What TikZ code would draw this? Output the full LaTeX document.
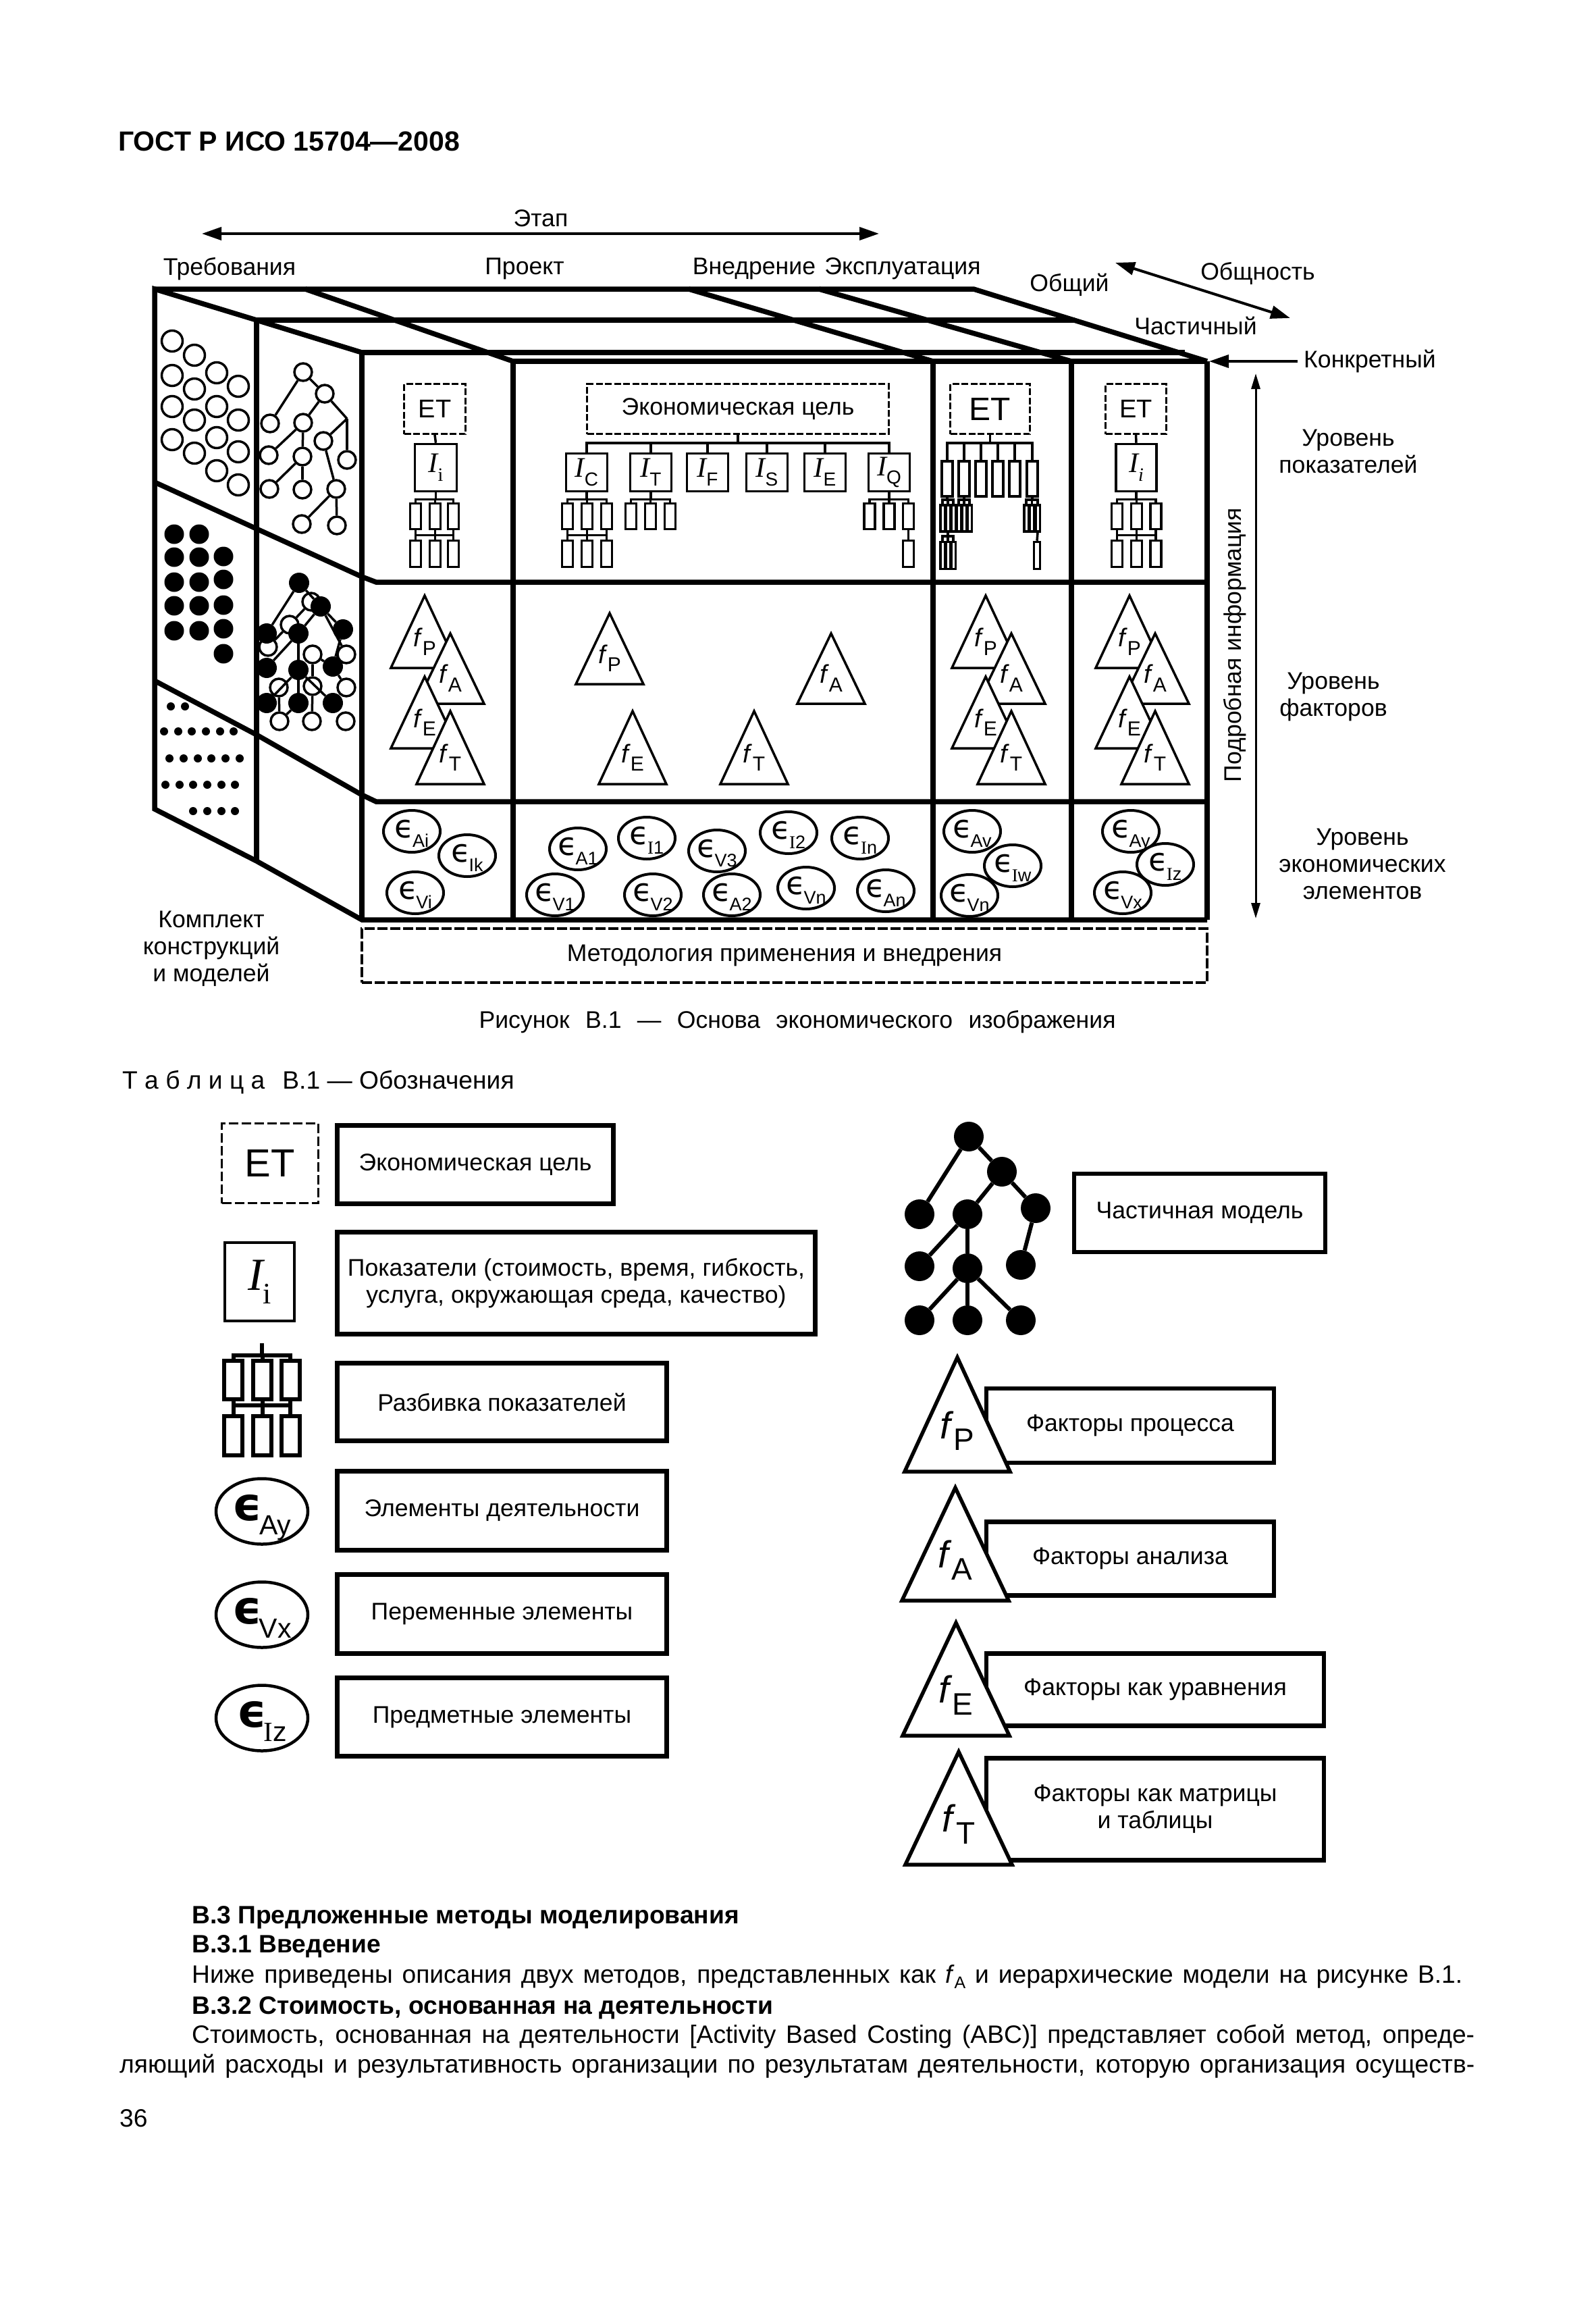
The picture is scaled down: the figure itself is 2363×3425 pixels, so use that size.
\documentclass[tikz,border=0pt]{standalone}
\usepackage{fontspec}
\setmainfont{Liberation Sans}
\newfontfamily\serifnt{Liberation Serif}
\newfontfamily\epsfnt{DejaVu Sans}
\usetikzlibrary{shapes.geometric, arrows.meta, calc}

\newcommand{\serI}{{\serifnt I}}
\newcommand{\elemtxt}[1]{\smash{\makebox[0pt]{\raisebox{-.2em}{\epsfnt\epsw ϵ}\kern-.06em\raisebox{-.5em}{\fontsize{\subsz}{\subsz}\selectfont #1}}}}
\newcommand{\indtxt}[1]{{\serifnt\itshape I}\raisebox{-.3em}{\fontsize{\subsz}{\subsz}\selectfont #1}}
\newcommand{\facttxt}[1]{\smash{\makebox[0pt]{\textit{f}\raisebox{-.32em}{\fontsize{\subsz}{\subsz}\selectfont #1}}}}
\newcommand{\rowkids}[7]{\foreach \xx [count=\kk] in {#3}{
  \node[kidbox, wh={#6}{#7}] (#2\kk) at (\xx,#5) {};
  \draw[link] (#1.south) -- ++(0,#4) -| (#2\kk.north);}}
\newcommand{\factri}[7][factlbl]{
  \draw[factor] (#3,#4) -- ++(-#5,#6) -- ++(2*#5,0) -- cycle;
  \node[#1] (#2) at (#3,#4+0.71*#6) {\facttxt{#7}};}

\begin{document}
\begin{tikzpicture}[
    x=1pt, y=-1pt,
    wh/.style 2 args={minimum width=#1pt, minimum height=#2pt},
    txt/.style={inner sep=0pt, align=center, yshift=-2pt, font=\fontsize{35.6}{40}\selectfont},
    bodytxt/.style={inner sep=0pt, anchor=west, yshift=-2pt, font=\fontsize{37.2}{40}\selectfont},
    headtxt/.style={bodytxt, font=\fontsize{37.2}{40}\selectfont\bfseries},
    wall/.style={line width=7.5pt, line join=miter},
    etbox/.style={draw, line width=3pt, dash pattern=on 10pt off 3.5pt, inner sep=0pt, font=\fontsize{38}{40}\selectfont},
    ibox/.style={draw, line width=3.5pt, inner sep=0pt, font=\fontsize{42}{42}\selectfont\def\subsz{28}},
    kidbox/.style={draw, line width=3.5pt, inner sep=0pt},
    link/.style={line width=3.5pt},
    legbox/.style={txt, yshift=0pt, draw, line width=6.5pt},
    factor/.style={draw, fill=white, line width=3.5pt, line join=miter},
    factlbl/.style={inner sep=0pt, font=\fontsize{38}{38}\selectfont\def\subsz{30}},
    legfact/.style={inner sep=0pt, font=\fontsize{56}{56}\selectfont\def\subsz{46}},
    elem/.style={draw, shape=ellipse, fill=white, line width=4pt, inner sep=0pt, minimum width=84pt, minimum height=62pt,
      font=\fontsize{47}{47}\selectfont\def\subsz{27}\let\epsw\relax},
    legelem/.style={elem, line width=4.5pt, minimum width=136pt, minimum height=97pt, font=\fontsize{68}{68}\selectfont\def\subsz{41}\let\epsw\bfseries},
    onode/.style={draw, circle, fill=white, line width=3.5pt, inner sep=0pt, minimum size=26pt},
    fnode/.style={circle, fill=black, inner sep=0pt, minimum size=30pt},
    tlink/.style={line width=3.5pt},
    arrow/.style={line width=4pt, -{Triangle[length=29pt,width=19pt]}}
]
\useasboundingbox (0,0) rectangle (2363,3425);

\node (gost) [headtxt, font=\fontsize{41}{44}\selectfont\bfseries] at (175,207) {ГОСТ Р ИСО 15704—2008};

\node (stage) [txt] at (801,321) {Этап};
\coordinate (stageL) at (299,346);
\coordinate (stageR) at (1302,346);
\draw[arrow, {Triangle[length=29pt,width=19pt]}-{Triangle[length=29pt,width=19pt]}] (stageL) -- (stageR);
\node (req) [txt] at (340,396) {Требования};
\node (proj) [txt] at (777,396) {Проект};
\node (impl) [txt] at (1117,396) {Внедрение};
\node (oper) [txt] at (1337,396) {Эксплуатация};
\node (general) [txt] at (1584,420) {Общий};
\node (generality) [txt] at (1863,403) {Общность};
\node (partial) [txt] at (1771,480) {Частичный};
\node (concrete) [txt, inner xsep=9pt] at (2029,533) {Конкретный};
\coordinate (genA) at (1652,389);
\coordinate (genB) at (1911,471);
\coordinate (corner) at (1791,535);
\draw[arrow, {Triangle[length=29pt,width=19pt]}-{Triangle[length=29pt,width=19pt]}] (genA) -- (genB);
\draw[arrow] (concrete.west) -- (corner);

\coordinate (detailT) at (1860,553);
\coordinate (detailB) at (1860,1360);
\draw[line width=3pt, {Triangle[length=23pt,width=13pt]}-{Triangle[length=23pt,width=13pt]}] (detailT) -- (detailB);
\node (detail) [txt, rotate=90, xshift=2pt, yshift=2pt] at (1831,955) {Подробная информация};
\node (lvlI) [txt] at (1997,666) {Уровень\\показателей};
\node (lvlF) [txt] at (1975,1030) {Уровень\\факторов};
\node (lvlE) [txt] at (2018,1277) {Уровень\\экономических\\элементов};
\node (kit) [txt] at (313,1403) {Комплект\\конструкций\\и моделей};

\foreach \xx/\yy in {255/505,288/526,255/556,321/552,288/576,353/572,255/602,321/602,288/622,353/622,255/651,321/648,288/671,353/669,321/697,353/718}
  \node[onode, minimum size=31pt] at (\xx,\yy) {};
\foreach \xx/\yy in {258/791,295/791,258/825,295/825,331/824,258/862,295/862,331/858,258/897,295/897,331/896,258/934,295/934,331/931,331/968}
  \node[fnode, minimum size=29pt] at (\xx,\yy) {};
\foreach \xx/\yy in {253/1046,274/1046,243/1083,264/1083,284/1083,305/1083,326/1083,346/1083,251/1123,272/1123,293/1123,313/1123,334/1123,355/1123,245/1162,266/1162,286/1162,307/1162,328/1162,348/1162,286/1201,307/1201,328/1201,348/1201}
  \node[fnode, minimum size=12pt] at (\xx,\yy) {};

\foreach \nm/\xx/\yy in {n1/449/551,n2/481/583,n3/400/627,n4/449/626,n5/479/653,n6/514/681,n7/398/674,n8/448/676,n9/399/724,n10/448/725,n11/498/724,n12/447/776,n13/499/778}
  \node[onode] (\nm) at (\xx,\yy) {};
\coordinate (nj) at (514,620);
\foreach \a/\b in {n1/n3,n1/n2,n2/n4,n2/nj,nj/n5,nj/n6,n4/n7,n4/n8,n8/n9,n8/n10,n5/n11,n11/n12,n11/n13}
  \draw[tlink] (\a) -- (\b);

\foreach \nm/\xx/\yy in {o1/461/891,o2/429/925,o3/397/958,o4/463/969,o5/513/969,o6/413/1018,o7/463/1016,o8/513/1018,o9/414/1068,o10/462/1068,o11/512/1068}
  \node[onode] (\nm) at (\xx,\yy) {};
\foreach \nm/\xx/\yy in {f1/443/863,f2/475/898,f3/395/938,f4/442/938,f5/508/932,f6/395/989,f7/442/992,f8/493/987,f9/395/1041,f10/442/1041,f11/493/1041}
  \node[fnode] (\nm) at (\xx,\yy) {};
\foreach \a/\b in {o1/o2,o2/o3,o4/o7,o7/o10,o6/o9,o9/f10,f8/o8,f8/o4,f2/o5,f1/f3,f1/f2,f2/f4,f2/f5,f5/f8,f4/f6,f4/f7,f7/f9,f7/f10,f7/f11}
  \draw[tlink] (\a) -- (\b);

\node (etA) [etbox, wh={91}{74}] at (644,605.5) {ET};
\node (iA) [ibox, wh={62}{70}] at (645.5,692.5) {\indtxt{\serifnt i}};
\draw[link] (etA.south) -- (iA.north);
\rowkids{iA}{aa}{615.5,644.5,671.5}{10}{764.5}{16}{38}
\rowkids{aa2}{ab}{615.5,644.5,671.5}{7}{820}{16}{39}
\draw[link] (aa1.south) -- (ab1.north) (aa3.south) -- (ab3.north);

\node (goal) [etbox, wh={447}{74}, font=\fontsize{35.6}{40}\selectfont] at (1093,605.5) {Экономическая цель};
\foreach \nm/\xx/\sb in {iC/869/C,iT/964/T,iF/1048/F,iS/1136/S,iE/1222/E,iQ/1317/Q}{
  \node[ibox, wh={61}{56}] (\nm) at (\xx,699.5) {\indtxt{\sb}};
  \draw[link] (goal.south) -- ++(0,12) -| (\nm.north);}
\rowkids{iC}{ca}{840.5,869.5,898.5}{10}{764.5}{16}{38}
\rowkids{ca2}{cb}{840.5,869.5,898.5}{7}{820}{16}{39}
\draw[link] (ca1.south) -- (cb1.north) (ca3.south) -- (cb3.north);
\rowkids{iT}{ta}{934.5,963.5,992.5}{10}{764.5}{16}{38}
\rowkids{iQ}{qa}{1288,1317,1345.5}{10}{764.5}{16}{38}
\node (qb) [kidbox, wh={16}{39}] at (1345.5,820) {};
\draw[link] (qa3.south) -- (qb.north);

\node (etB) [etbox, wh={118}{74}, font=\fontsize{48}{48}\selectfont] at (1466.5,605.5) {ET};
\rowkids{etB}{ba}{1403,1428,1453,1478,1503,1529}{12}{709}{16}{52}
\rowkids{ba1}{bb}{1396,1404,1412}{3}{767.5}{6.5}{39}
\rowkids{ba2}{bc}{1420,1428,1436}{3}{767.5}{6.5}{39}
\rowkids{ba6}{bd}{1520,1528.5,1537}{3}{767.5}{6.5}{39}
\rowkids{bb2}{be}{1396,1404,1412}{5}{822.5}{6.5}{40}
\node (bf) [kidbox, wh={9}{40}] at (1536,822.5) {};
\draw[link] (bd3.south) -- (bf.north);

\node (etC) [etbox, wh={90}{74}] at (1682.5,605.5) {ET};
\node (iD) [ibox, wh={60}{70}] at (1683,692.5) {\indtxt{\serifnt\itshape i}};
\draw[link] (etC.south) -- (iD.north);
\rowkids{iD}{da}{1654.5,1683.5,1712}{10}{764.5}{16}{38}
\rowkids{da2}{db}{1654.5,1683.5,1712}{7}{820}{16}{39}
\draw[link] (da1.south) -- (db1.north) (da3.south) -- (db3.north);

\factri{cP}{629}{882}{50}{107}{P}
\factri{cA}{667}{938}{50}{104}{A}
\factri{cE}{629}{1002}{50}{106}{E}
\factri{cT}{667}{1053}{50}{108}{T}
\factri{mP}{903}{908}{50}{105}{P}
\factri{mA}{1231}{938}{50}{104}{A}
\factri{mE}{937}{1053}{50}{108}{E}
\factri{mT}{1117}{1053}{50}{108}{T}
\factri{bP}{1460}{882}{50}{107}{P}
\factri{bA}{1498}{938}{50}{104}{A}
\factri{bE}{1460}{1002}{50}{106}{E}
\factri{bT}{1498}{1053}{50}{108}{T}
\factri{dP}{1673}{882}{50}{107}{P}
\factri{dA}{1711}{938}{50}{104}{A}
\factri{dE}{1673}{1002}{50}{106}{E}
\factri{dT}{1711}{1053}{50}{108}{T}

\foreach \nm/\xx/\yy/\sb in {eAi/610/1231/Ai,eIk/692/1267/Ik,eVi/615/1322/Vi,eAa/856/1257/A1,eIa/958/1241/\serI 1,eVc/1062/1260/V3,eIb/1168/1233/\serI 2,eVa/822/1325/V1,eVb/967/1325/V2,eAb/1084/1325/A2,eVn/1194/1315/Vn,eIn/1274/1241/\serI n,eAn/1312/1319/An,eAv/1440/1231/Av,eIw/1500/1282/\serI w,eVm/1436/1326/Vn,eAy/1675/1231/Ay,eIz/1726/1280/\serI z,eVx/1663/1322/Vx}
  \node[elem] (\nm) at (\xx,\yy) {\elemtxt{\sb}};

\draw[wall] (229,428) -- (1442,428) -- (1788,535);
\draw[wall] (380,474) -- (1592,474);
\draw[wall] (536,522) -- (1755,522);
\draw[wall] (760,535) -- (1788,535);
\draw[wall] (452,428) -- (760,535);
\draw[wall] (1020,428) -- (1382,535);
\draw[wall] (1213,428) -- (1587,535);
\draw[wall] (536,522) -- (380,474) -- (229,428) -- (229,1198) -- (380,1275) -- (536,1362) -- (1788,1362);
\draw[wall] (229,714) -- (380,783) -- (536,854) -- (557,862) -- (1788,862);
\draw[wall] (229,1008) -- (380,1088) -- (536,1177) -- (557,1187) -- (1788,1187);
\foreach \xx/\yy in {380/474,536/522,760/535,1382/535,1587/535,1788/535}
  \draw[wall] (\xx,\yy) -- (\xx,\ifnum\xx=380 1275\else 1362\fi);

\node (method) [txt, yshift=0pt, draw, line width=4pt, dash pattern=on 15pt off 4pt, wh={1252}{80}] at (1162,1413) {Методология применения и внедрения};
\node (cap) [txt] at (1181,1511) {\makebox[943pt][s]{Рисунок В.1 — Основа экономического изображения}};
\node (tab) [bodytxt] at (181,1601) {Т а б л и ц а\hspace{26pt}В.1 — Обозначения};

\node (lgET) [etbox, wh={143}{118}, dash pattern=on 14pt off 5pt, font=\fontsize{58}{58}\selectfont] at (400,1722.5) {ET};
\node (lbET) [legbox, wh={409}{116}] at (704,1722.5) {Экономическая цель};
\node (lgI) [ibox, line width=4pt, wh={103}{116}, font=\fontsize{68}{68}\selectfont\def\subsz{44}] at (384.5,1898) {\indtxt{\serifnt i}};
\node (lbI) [legbox, wh={708}{151}] at (853.5,1898) {Показатели (стоимость, время, гибкость,\\услуга, окружающая среда, качество)};
\begin{scope}[kidbox/.append style={line width=6pt}, link/.append style={line width=6pt}]
\node (lgTop) [inner sep=0pt, minimum size=0pt] at (388,1989) {};
\rowkids{lgTop}{la}{345.5,388.5,430}{18}{2043.5}{27}{57}
\rowkids{la2}{lb}{345.5,388.5,430}{6}{2125.5}{27}{58}
\draw[link] (la1.south) -- (lb1.north) (la3.south) -- (lb3.north);
\end{scope}
\node (lbB) [legbox, wh={488}{115}] at (743.5,2074) {Разбивка показателей};
\node (lgA) [legelem] at (388,2238) {\elemtxt{Ay}};
\node (lbA) [legbox, wh={488}{117}] at (743.5,2235) {Элементы деятельности};
\node (lgV) [legelem] at (388,2391) {\elemtxt{Vx}};
\node (lbV) [legbox, wh={488}{117}] at (743.5,2388) {Переменные элементы};
\node (lgZ) [legelem] at (388,2544) {\elemtxt{\serI z}};
\node (lbZ) [legbox, wh={488}{116}] at (743.5,2540.5) {Предметные элементы};

\foreach \nm/\xx/\yy in {t1/1435/1683,t2/1484/1735,t3/1362/1798,t4/1433/1798,t5/1534/1789,t6/1362/1875,t7/1433/1878,t8/1512/1873,t9/1362/1955,t10/1433/1955,t11/1512/1955}
  \node[fnode, minimum size=44pt] (\nm) at (\xx,\yy) {};
\foreach \a/\b in {t1/t3,t1/t2,t2/t4,t2/t5,t4/t6,t4/t7,t5/t8,t7/t9,t7/t10,t7/t11}
  \draw[line width=6pt] (\a) -- (\b);
\node (lbM) [legbox, wh={372}{116}] at (1777,1794) {Частичная модель};

\node (lbP) [legbox, wh={426}{110}] at (1674,2109) {Факторы процесса};
\node (lbN) [legbox, wh={426}{109}] at (1674,2306) {Факторы анализа};
\node (lbQ) [legbox, wh={500}{107}] at (1711,2500) {Факторы как уравнения};
\node (lbT) [legbox, wh={500}{151}] at (1711,2677) {Факторы как матрицы\\и таблицы};
\begin{scope}[factor/.append style={line width=5.5pt}]
\factri[legfact]{lP}{1418}{2010}{78}{169}{P}
\factri[legfact]{lA}{1415}{2203}{79}{167}{A}
\factri[legfact]{lE}{1416}{2403}{79}{167}{E}
\factri[legfact]{lT}{1420}{2594}{79}{167}{T}
\end{scope}

\node (s1) [headtxt] at (284,2837) {В.3 Предложенные методы моделирования};
\node (s2) [headtxt] at (284,2880) {В.3.1 Введение};
\node (s3) [bodytxt] at (284,2925) {\makebox[1882pt][s]{Ниже приведены описания двух методов, представленных как \textit{f}\raisebox{-.2em}{\fontsize{25}{25}\selectfont A} и иерархические модели на рисунке В.1.}};
\node (s4) [headtxt] at (284,2971) {В.3.2 Стоимость, основанная на деятельности};
\node (s5) [bodytxt] at (284,3014) {\makebox[1900pt][s]{Стоимость, основанная на деятельности [Activity Based Costing (ABC)] представляет собой метод, опреде-}};
\node (s6) [bodytxt] at (177,3058) {\makebox[2007pt][s]{ляющий расходы и результативность организации по результатам деятельности, которую организация осуществ-}};
\node (page) [bodytxt] at (177,3135) {36};
\end{tikzpicture}
\end{document}
